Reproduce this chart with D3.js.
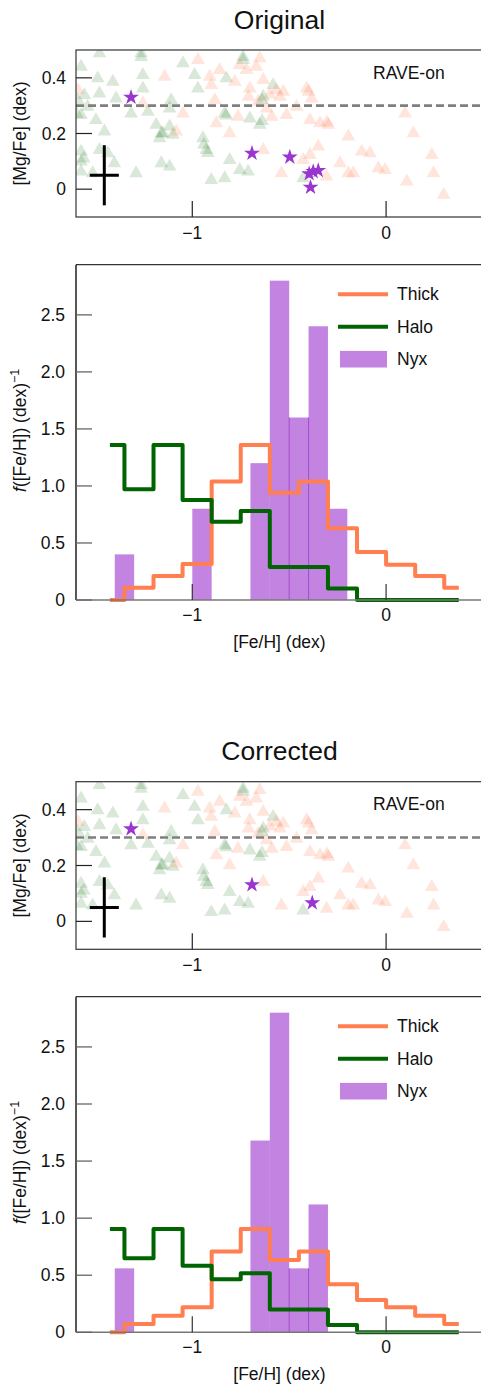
<!DOCTYPE html>
<html>
<head>
<meta charset="utf-8">
<script src="https://cdn.jsdelivr.net/npm/d3@7"></script>
<style>
  html, body { margin: 0; padding: 0; background: #fff; }
  svg { display: block; }
  text { font-family: "Liberation Sans", Arial, Helvetica, sans-serif; fill: #111; }
</style>
</head>
<body>
<svg id="chart" width="481" height="1386"></svg>
<script>
// ---- data ----
const fehTicks = [-1, 0];
const mgTicks = [0, 0.2, 0.4];
const densTicks = [0, 0.5, 1.0, 1.5, 2.0, 2.5];

// background comparison stars (same in both scatter panels): [Fe/H], [Mg/Fe]
const haloTri = [
  [-1.574, 0.44], [-1.479, 0.488], [-1.488, 0.398], [-1.41, 0.386], [-1.479, 0.344],
  [-1.557, 0.338], [-1.574, 0.266], [-1.497, 0.248], [-1.54, 0.296], [-1.393, 0.326],
  [-1.453, 0.207], [-1.574, 0.135], [-1.574, 0.099], [-1.574, 0.063], [-1.479, 0.141],
  [-1.436, 0.129], [-1.402, 0.093], [-1.514, 0.057], [-1.29, 0.057], [-1.264, 0.488],
  [-1.264, 0.475], [-1.255, 0.41], [-1.255, 0.362], [-1.316, 0.272], [-1.229, 0.278],
  [-1.186, 0.231], [-1.152, 0.201], [-1.169, 0.183], [-1.117, 0.225], [-1.109, 0.32],
  [-1.117, 0.29], [-1.1, 0.195], [-1.16, 0.2], [-1.048, 0.452], [-0.988, 0.41],
  [-0.971, 0.362], [-0.945, 0.183], [-0.928, 0.141], [-0.92, 0.13], [-0.902, 0.033],
  [-0.833, 0.039], [-0.807, 0.105], [-0.755, 0.069], [-0.712, 0.063], [-0.824, 0.398],
  [-0.833, 0.272], [-0.826, 0.265], [-0.738, 0.464], [-0.738, 0.475], [-0.703, 0.254],
  [-0.652, 0.231], [-0.634, 0.332], [-0.64, 0.32], [-0.583, 0.374], [-1.16, 0.093],
  [-1.117, 0.081], [-0.428, 0.039], [-1.595, 0.27], [-1.59, 0.32], [-1.56, 0.11],
  [-0.64, 0.245], [-0.94, 0.16]
];
const thickTri = [
  [-1.59, 0.356], [-1.255, 0.308], [-1.143, 0.404], [-1.083, 0.207], [-1.048, 0.272],
  [-0.971, 0.464], [-0.91, 0.404], [-0.902, 0.374], [-0.884, 0.32], [-0.876, 0.237],
  [-0.859, 0.428], [-0.807, 0.201], [-0.781, 0.386], [-0.755, 0.446], [-0.72, 0.428],
  [-0.764, 0.26], [-0.71, 0.332], [-0.703, 0.362], [-0.652, 0.47], [-0.634, 0.392],
  [-0.66, 0.314], [-0.617, 0.29], [-0.634, 0.141], [-0.59, 0.26], [-0.566, 0.356],
  [-0.548, 0.332], [-0.514, 0.266], [-0.53, 0.35], [-0.462, 0.296], [-0.41, 0.362],
  [-0.4, 0.35], [-0.384, 0.326], [-0.393, 0.248], [-0.341, 0.237], [-0.298, 0.231],
  [-0.305, 0.24], [-0.35, 0.153], [-0.393, 0.123], [-0.428, 0.105], [-0.54, 0.057],
  [-0.307, 0.045], [-0.238, 0.093], [-0.195, 0.189], [-0.195, 0.057], [-0.169, 0.057],
  [-0.126, 0.135], [-0.083, 0.129], [-0.04, 0.075], [-0.005, 0.069], [0.098, 0.272],
  [0.141, 0.201], [0.107, 0.027], [0.236, 0.123], [0.245, 0.057], [0.297, -0.02],
  [-0.67, 0.44], [-0.6, 0.34]
];

// Nyx stars
const nyxOrigStars = [
  [-1.316, 0.33], [-0.692, 0.129], [-0.497, 0.115], [-0.397, 0.055],
  [-0.376, 0.063], [-0.35, 0.067], [-0.39, 0.007]
];
const nyxCorrStars = [[-1.316, 0.331], [-0.692, 0.131], [-0.381, 0.066]];

// typical uncertainty cross
const errCross = { feh: -1.454, mg: 0.05, dFeh: 0.075, dMg: 0.108 };

// step-line bin centres and normalised densities
const stepCenters = [-1.425, -1.275, -1.125, -0.975, -0.825, -0.675, -0.525,
                     -0.375, -0.225, -0.075, 0.075, 0.225, 0.375];
const thickOrig = [0, 0.108, 0.21, 0.316, 1.04, 1.36, 0.94, 1.04, 0.63, 0.42, 0.31, 0.21, 0.108];
const haloOrig  = [1.36, 0.97, 1.36, 0.877, 0.687, 0.78, 0.29, 0.29, 0.10, 0, 0, 0, 0];
const thickCorr = [0, 0.073, 0.146, 0.219, 0.707, 0.906, 0.634, 0.707, 0.421, 0.283, 0.219, 0.146, 0.073];
const haloCorr  = [0.906, 0.649, 0.906, 0.584, 0.465, 0.517, 0.20, 0.20, 0.064, 0, 0, 0, 0];

// Nyx histogram (bin width 0.1, left edges)
const nyxBinWidth = 0.1;
const nyxOrigLeft = [-1.4, -1.0, -0.7, -0.6, -0.5, -0.4, -0.3];
const nyxOrigH    = [0.4, 0.8, 1.2, 2.8, 1.6, 2.4, 0.8];
const nyxCorrLeft = [-1.4, -0.7, -0.6, -0.5, -0.4];
const nyxCorrH    = [0.56, 1.68, 2.8, 0.56, 1.12];
const nyxEdgeLines = [-0.5, -0.4];

// ---- drawing ----
const svg = d3.select("#chart");
const xLeft = 76, xRight = 483;
const x = d3.scaleLinear().domain([-1.6, 0.5]).range([xLeft, xRight]);

const THICK = "#ff7f50", HALO = "#006400", NYX = "darkorchid";
const TICK = 16;

function minus(s) { return String(s).replace("-", "\u2212"); }

function drawTitle(label, baseline) {
  svg.append("text")
    .attr("x", (xLeft + xRight) / 2).attr("y", baseline)
    .attr("text-anchor", "middle").attr("font-size", 26.5)
    .text(label);
}

function xTicks(g, bottom, labelY, color) {
  fehTicks.forEach(t => {
    g.append("line")
      .attr("x1", x(t)).attr("x2", x(t))
      .attr("y1", bottom).attr("y2", bottom - TICK)
      .attr("stroke", color).attr("stroke-width", 1.2);
    g.append("text")
      .attr("x", x(t)).attr("y", labelY)
      .attr("text-anchor", "middle").attr("font-size", 17.5)
      .text(minus(t));
  });
}

function drawScatter(top, bottom, stars) {
  const y = d3.scaleLinear().domain([-0.1, 0.5]).range([bottom, top]);
  const g = svg.append("g");
  const clipId = "clip" + Math.round(top);
  g.append("clipPath").attr("id", clipId)
    .append("rect").attr("x", xLeft).attr("y", top)
    .attr("width", xRight - xLeft).attr("height", bottom - top);
  const inner = g.append("g").attr("clip-path", `url(#${clipId})`);

  const tri = d3.symbol().type(d3.symbolTriangle).size(82);
  inner.selectAll(".halo").data(haloTri).join("path")
    .attr("d", tri)
    .attr("transform", d => `translate(${x(d[0])},${y(d[1])})`)
    .attr("fill", HALO).attr("fill-opacity", 0.15);
  inner.selectAll(".thick").data(thickTri).join("path")
    .attr("d", tri)
    .attr("transform", d => `translate(${x(d[0])},${y(d[1])})`)
    .attr("fill", THICK).attr("fill-opacity", 0.2);

  // [Mg/Fe] = 0.3 reference
  inner.append("line")
    .attr("x1", xLeft).attr("x2", xRight)
    .attr("y1", y(0.3)).attr("y2", y(0.3))
    .attr("stroke", "#7f7f7f").attr("stroke-width", 2.6)
    .attr("stroke-dasharray", "8,4");

  // error cross
  inner.append("line")
    .attr("x1", x(errCross.feh - errCross.dFeh)).attr("x2", x(errCross.feh + errCross.dFeh))
    .attr("y1", y(errCross.mg)).attr("y2", y(errCross.mg))
    .attr("stroke", "#000").attr("stroke-width", 3);
  inner.append("line")
    .attr("x1", x(errCross.feh)).attr("x2", x(errCross.feh))
    .attr("y1", y(errCross.mg - errCross.dMg)).attr("y2", y(errCross.mg + errCross.dMg))
    .attr("stroke", "#000").attr("stroke-width", 3);

  const star = d3.symbol().type(d3.symbolStar).size(78);
  inner.selectAll(".nyx").data(stars).join("path")
    .attr("d", star)
    .attr("transform", d => `translate(${x(d[0])},${y(d[1])})`)
    .attr("fill", "#9a36cf");

  // frame
  g.append("rect")
    .attr("x", xLeft).attr("y", top)
    .attr("width", xRight - xLeft).attr("height", bottom - top)
    .attr("fill", "none").attr("stroke", "#333").attr("stroke-width", 1.2);

  mgTicks.forEach(t => {
    g.append("line")
      .attr("x1", xLeft).attr("x2", xLeft + TICK)
      .attr("y1", y(t)).attr("y2", y(t))
      .attr("stroke", "#222").attr("stroke-width", 1.2);
    g.append("text")
      .attr("x", xLeft - 10).attr("y", y(t) + 6)
      .attr("text-anchor", "end").attr("font-size", 17.5)
      .text(t === 0 ? "0" : d3.format(".1f")(t));
  });
  xTicks(g, bottom, bottom + 22, "#222");

  g.append("text")
    .attr("x", 373).attr("y", top + 28.5)
    .attr("font-size", 17.5).text("RAVE-on");

  g.append("text")
    .attr("transform", `translate(26,${(top + bottom) / 2}) rotate(-90)`)
    .attr("text-anchor", "middle").attr("font-size", 17.5)
    .text("[Mg/Fe] (dex)");
}

function drawHist(top, bottom, thickVals, haloVals, nyxLeft, nyxH) {
  const y = d3.scaleLinear().domain([0, 2.94]).range([bottom, top]);
  const g = svg.append("g");

  const bars = nyxLeft.map((l, i) => ({ l, h: nyxH[i] }));
  g.selectAll(".bar").data(bars).join("rect")
    .attr("x", d => x(d.l)).attr("width", d => x(d.l + nyxBinWidth) - x(d.l))
    .attr("y", d => y(d.h)).attr("height", d => y(0) - y(d.h))
    .attr("fill", NYX).attr("fill-opacity", 0.6);
  nyxEdgeLines.forEach(e => {
    const left = bars.find(b => Math.abs(b.l + nyxBinWidth - e) < 1e-6);
    const right = bars.find(b => Math.abs(b.l - e) < 1e-6);
    const h = Math.min(left ? left.h : 0, right ? right.h : 0);
    g.append("line")
      .attr("x1", x(e)).attr("x2", x(e)).attr("y1", y(0)).attr("y2", y(h))
      .attr("stroke", NYX).attr("stroke-opacity", 0.75).attr("stroke-width", 1);
  });

  const line = d3.line().curve(d3.curveStep)
    .x((d, i) => x(stepCenters[i])).y(d => y(d));
  g.append("path").datum(thickVals).attr("d", line)
    .attr("fill", "none").attr("stroke", THICK).attr("stroke-width", 4)
    .attr("stroke-linejoin", "round");
  g.append("path").datum(haloVals).attr("d", line)
    .attr("fill", "none").attr("stroke", HALO).attr("stroke-width", 4)
    .attr("stroke-linejoin", "round");

  // spines
  g.append("line").attr("x1", xLeft).attr("x2", xRight).attr("y1", top).attr("y2", top)
    .attr("stroke", "#333").attr("stroke-width", 1.2);
  g.append("line").attr("x1", xLeft).attr("x2", xLeft).attr("y1", top).attr("y2", bottom)
    .attr("stroke", "#111").attr("stroke-width", 1.4);
  g.append("line").attr("x1", xLeft).attr("x2", xRight).attr("y1", bottom).attr("y2", bottom)
    .attr("stroke", "#777").attr("stroke-width", 1.6);

  densTicks.forEach(t => {
    g.append("line")
      .attr("x1", xLeft).attr("x2", xLeft + TICK)
      .attr("y1", y(t)).attr("y2", y(t))
      .attr("stroke", "#666").attr("stroke-width", 1.3);
    g.append("text")
      .attr("x", xLeft - 11).attr("y", y(t) + 6)
      .attr("text-anchor", "end").attr("font-size", 17.5)
      .text(t === 0 ? "0" : d3.format(".1f")(t));
  });
  xTicks(g, bottom, bottom + 21, "#333");

  g.append("text")
    .attr("x", (xLeft + xRight) / 2).attr("y", bottom + 47.5)
    .attr("text-anchor", "middle").attr("font-size", 17.5)
    .text("[Fe/H] (dex)");

  const yl = g.append("text")
    .attr("transform", `translate(26,${(top + bottom) / 2 - 2}) rotate(-90)`)
    .attr("text-anchor", "middle").attr("font-size", 17.5);
  yl.append("tspan").attr("font-style", "italic").text("f");
  yl.append("tspan").text("([Fe/H]) (dex)");
  yl.append("tspan").attr("dy", -7).attr("font-size", 12.5).text("\u22121");

  // legend
  const lx0 = 338, lx1 = 388, tx = 397;
  const items = [
    { label: "Thick", dy: 29.5, kind: "line", color: THICK },
    { label: "Halo", dy: 62, kind: "line", color: HALO },
    { label: "Nyx", dy: 94.5, kind: "patch", color: NYX }
  ];
  items.forEach(it => {
    const cy = top + it.dy;
    if (it.kind === "line") {
      g.append("line").attr("x1", lx0).attr("x2", lx1).attr("y1", cy).attr("y2", cy)
        .attr("stroke", it.color).attr("stroke-width", 4);
    } else {
      g.append("rect").attr("x", lx0 + 2).attr("y", cy - 8.3).attr("width", 47).attr("height", 16.6)
        .attr("fill", it.color).attr("fill-opacity", 0.6);
    }
    g.append("text").attr("x", tx).attr("y", cy + 6.2)
      .attr("font-size", 17.5).text(it.label);
  });
}

drawTitle("Original", 29);
drawScatter(50, 217, nyxOrigStars);
drawHist(264.7, 600, thickOrig, haloOrig, nyxOrigLeft, nyxOrigH);

drawTitle("Corrected", 759.5);
drawScatter(781.7, 949.3, nyxCorrStars);
drawHist(996.7, 1332.3, thickCorr, haloCorr, nyxCorrLeft, nyxCorrH);
</script>
</body>
</html>
